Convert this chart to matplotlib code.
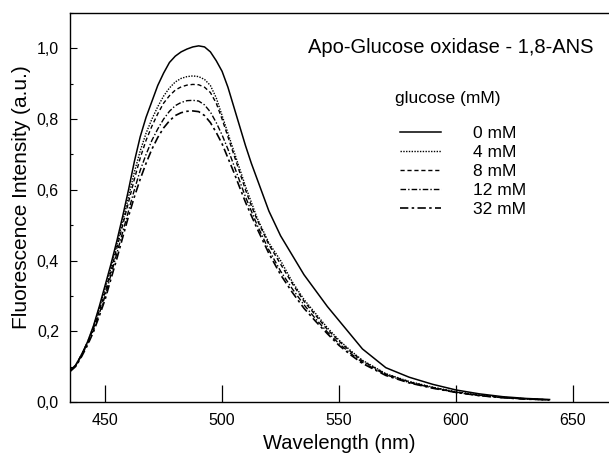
import matplotlib
matplotlib.use('Agg')
import matplotlib.pyplot as plt
from matplotlib.ticker import MultipleLocator

plt.rcParams['font.family'] = ['Liberation Sans', 'DejaVu Sans']

wavelength = [435, 437.5, 440, 442.5, 445, 447.5, 450, 452.5, 455, 457.5, 460,
              462.5, 465, 467.5, 470, 472.5, 475, 477.5, 480, 482.5, 485,
              487.5, 490, 492.5, 495, 497.5, 500, 502.5, 505, 507.5, 510,
              512.5, 515, 517.5, 520, 525, 530, 535, 540, 545, 550, 555, 560,
              570, 580, 590, 600, 610, 620, 630, 640]

glc_0 = [0.088, 0.105, 0.135, 0.17, 0.215, 0.27, 0.33, 0.39, 0.455, 0.525,
         0.60, 0.68, 0.75, 0.805, 0.85, 0.895, 0.93, 0.96, 0.978, 0.99, 0.998,
         1.004, 1.007, 1.004, 0.99, 0.965, 0.935, 0.89, 0.835, 0.78, 0.725,
         0.675, 0.63, 0.585, 0.54, 0.47, 0.415, 0.36, 0.315, 0.27, 0.23,
         0.19, 0.15, 0.097, 0.07, 0.05, 0.034, 0.023, 0.015, 0.01, 0.007]
glc_4 = [0.088, 0.105, 0.135, 0.17, 0.212, 0.265, 0.32, 0.38, 0.445, 0.51,
         0.58, 0.65, 0.71, 0.76, 0.80, 0.835, 0.865, 0.888, 0.905, 0.915,
         0.92, 0.922, 0.92, 0.912, 0.895, 0.86, 0.81, 0.76, 0.71, 0.66, 0.61,
         0.565, 0.52, 0.485, 0.45, 0.40, 0.34, 0.29, 0.25, 0.21, 0.175,
         0.145, 0.118, 0.08, 0.058, 0.042, 0.029, 0.02, 0.013, 0.009, 0.006]
glc_8 = [0.088, 0.104, 0.134, 0.168, 0.208, 0.258, 0.31, 0.37, 0.435, 0.50,
         0.565, 0.63, 0.69, 0.74, 0.78, 0.815, 0.845, 0.866, 0.882, 0.891,
         0.896, 0.898, 0.897, 0.89, 0.875, 0.845, 0.80, 0.75, 0.70, 0.65,
         0.60, 0.555, 0.515, 0.48, 0.445, 0.39, 0.335, 0.285, 0.245, 0.205,
         0.172, 0.142, 0.116, 0.079, 0.057, 0.041, 0.028, 0.019, 0.013,
         0.009, 0.006]
glc_12 = [0.088, 0.103, 0.132, 0.165, 0.203, 0.25, 0.30, 0.36, 0.42, 0.48,
          0.54, 0.60, 0.655, 0.70, 0.74, 0.772, 0.80, 0.822, 0.838, 0.847,
          0.852, 0.853, 0.851, 0.84, 0.82, 0.79, 0.755, 0.715, 0.67, 0.625,
          0.58, 0.54, 0.50, 0.465, 0.43, 0.37, 0.32, 0.275, 0.235, 0.198,
          0.165, 0.137, 0.112, 0.077, 0.055, 0.04, 0.027, 0.018, 0.012,
          0.008, 0.006]
glc_32 = [0.086, 0.101, 0.129, 0.161, 0.198, 0.243, 0.29, 0.348, 0.405, 0.465,
          0.525, 0.58, 0.63, 0.675, 0.715, 0.748, 0.775, 0.795, 0.81, 0.818,
          0.822, 0.823, 0.821, 0.81, 0.79, 0.762, 0.73, 0.69, 0.65, 0.607,
          0.565, 0.527, 0.49, 0.455, 0.42, 0.36, 0.31, 0.265, 0.228, 0.193,
          0.16, 0.133, 0.109, 0.075, 0.054, 0.039, 0.027, 0.018, 0.012,
          0.008, 0.006]

series = [glc_0, glc_4, glc_8, glc_12, glc_32]
labels = ['0 mM', '4 mM', '8 mM', '12 mM', '32 mM']
styles = ['-', (0, (1, 1)), (0, (3, 2)), (0, (4, 1.5, 1, 1.5)), (0, (5, 2, 1.5, 2))]
widths = [1.1, 1.0, 1.0, 1.0, 1.2]

xticks = [450, 500, 550, 600, 650]
yticks = [0.0, 0.2, 0.4, 0.6, 0.8, 1.0]
ytick_labels = ['0,0', '0,2', '0,4', '0,6', '0,8', '1,0']

fig = plt.figure(figsize=(6.09, 4.55), dpi=100)
ax = fig.add_axes([0.115, 0.1165, 0.885, 0.855])

for vals, lab, ls, lw in zip(series, labels, styles, widths):
    ax.plot(wavelength, vals, color='black', linestyle=ls, linewidth=lw, label=lab)

ax.set_xlim(435, 665.4)
ax.set_ylim(0, 1.1)
ax.spines['right'].set_visible(False)
for s in ['left', 'top', 'bottom']:
    ax.spines[s].set_linewidth(1.0)

ax.set_xticks(xticks)
ax.set_xticklabels([str(t) for t in xticks], fontsize=11.5)
ax.set_yticks(yticks)
ax.set_yticklabels(ytick_labels, fontsize=11.5)
ax.yaxis.set_minor_locator(MultipleLocator(0.1))
ax.tick_params(axis='x', direction='in', length=12, width=0.9, pad=8)
ax.tick_params(axis='y', which='major', direction='in', length=5, width=0.8, pad=8)
ax.tick_params(axis='y', which='minor', direction='in', length=2.5, width=0.8)
ax.tick_params(top=False, right=False)

ax.set_xlabel('Wavelength (nm)', fontsize=14.5, labelpad=4)
ax.set_ylabel('Fluorescence Intensity (a.u.)', fontsize=15)
ax.yaxis.set_label_coords(-0.072, 0.527)

ax.text(0.972, 0.91, 'Apo-Glucose oxidase - 1,8-ANS', transform=ax.transAxes,
        ha='right', va='center', fontsize=14.5)
ax.text(0.603, 0.78, 'glucose (mM)', transform=ax.transAxes,
        ha='left', va='center', fontsize=12.5)

ax.legend(loc='upper left', bbox_to_anchor=(0.612, 0.71), frameon=False,
          fontsize=12.5, handlelength=2.35, handletextpad=1.85, labelspacing=0.22,
          borderaxespad=0, borderpad=0)

fig.savefig('out.png', dpi=100)
